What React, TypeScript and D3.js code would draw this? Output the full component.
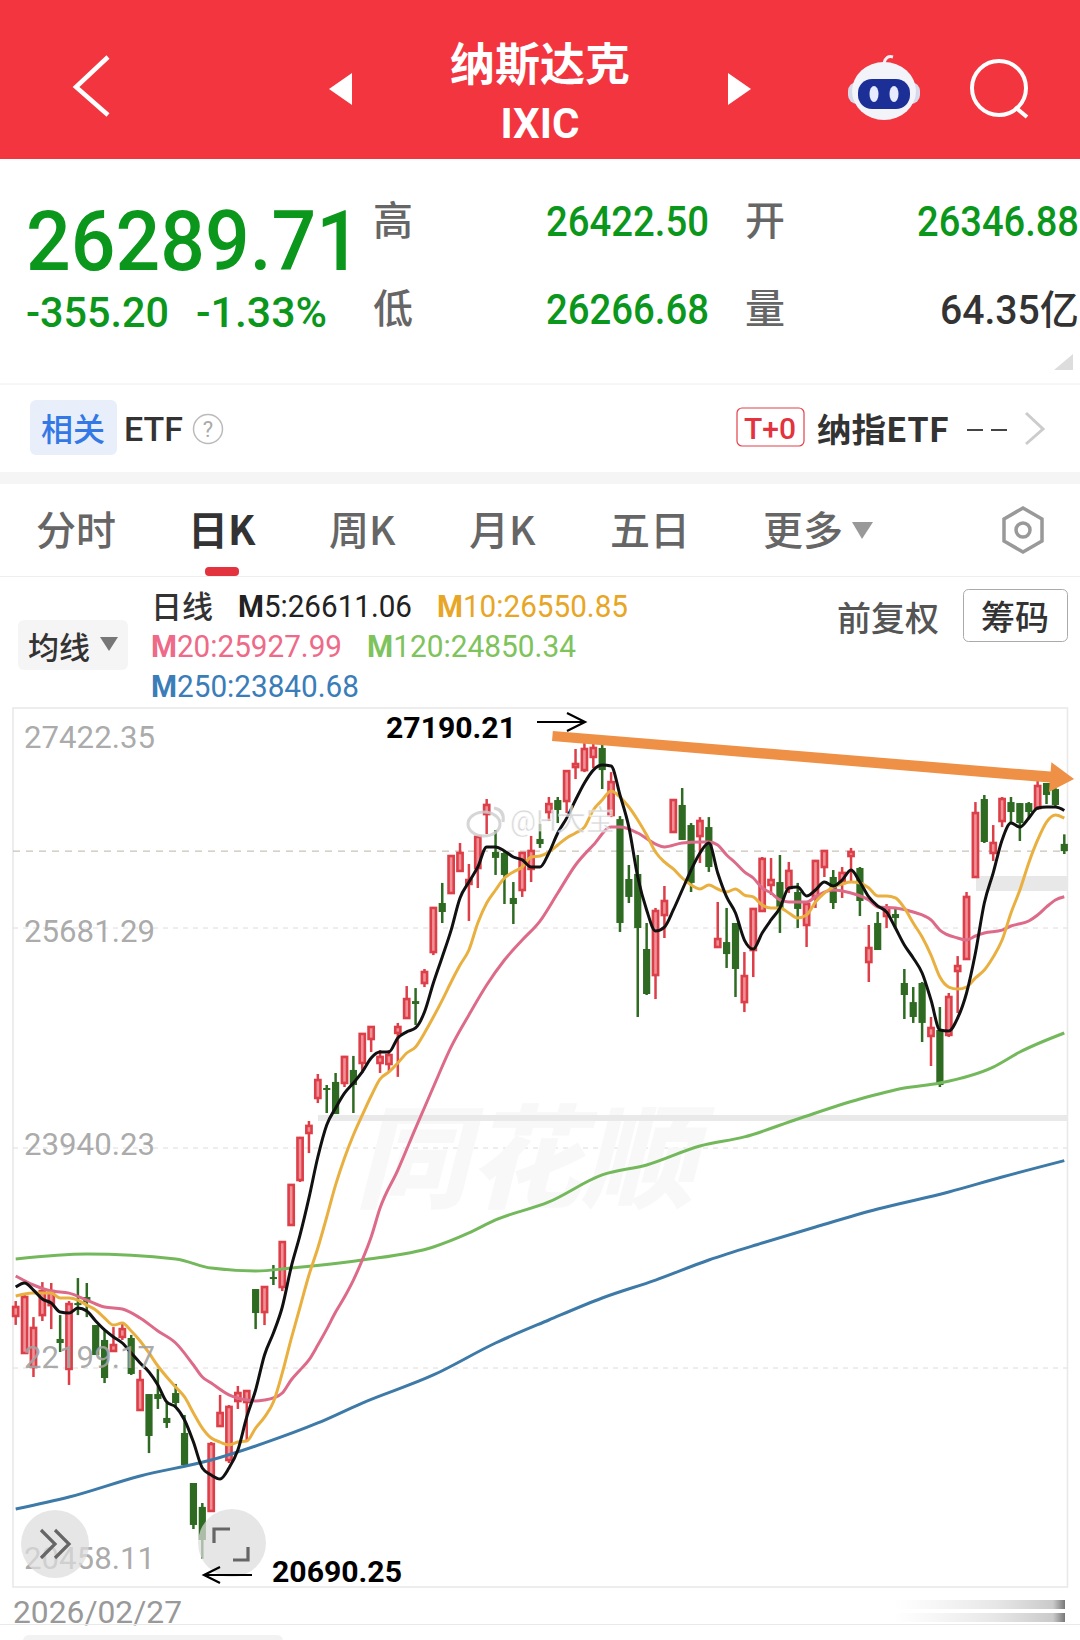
import React from 'react';
import * as d3 from 'd3';

// ---- chart values (IXIC daily candles) ----
const highs = [22729,22792,22602,22879,22872,22618,22729,22911,22872,22539,
22500,22523,22563,22461,22184,21993,22192,21922,22073,21827,
21289,21131,21613,21986,21906,22057,22025,22824,22840,23014,
23196,23648,24028,24154,24526,24439,24534,24669,24669,24843,
24898,24716,24716,24930,25222,25206,25357,25848,26038,26251,
26354,26188,26410,26702,26457,26283,26045,26283,26410,26504,
26718,26718,26931,27098,27146,27190.21,27130,26915,26567,26180,
26259,25721,25840,26014,26694,26789,26512,26559,26559,25887,
25840,25721,25491,25840,26243,26235,26259,26204,26038,25887,
26220,26291,26140,26164,26315,26164,25705,25808,25871,25848,
25357,25214,25254,24977,25056,25167,25459,25966,26678,26734,
26496,26718,26718,26670,26678,26845,26829,26789,26422.5];

const opens = [22611,22318,22207,22618,22697,22429,22192,22713,22761,22539,
22421,22334,22445,22437,21867,21993,21993,21804,22001,21685,
21289,21100,21068,21740,21471,21938,21930,22824,22642,22919,
22840,23331,23687,24059,24336,24415,24463,24455,24558,24613,
24803,24613,24605,24851,24969,25103,25246,25491,25879,25958,
26133,26030,26156,26583,26283,26275,25919,25982,26149,26386,
26599,26694,26686,26955,26931,27035,27106,26575,26543,26069,
26109,25515,25309,25784,26441,26655,26496,26409,26480,25531,
25570,25721,25095,25507,25816,26022,26045,25998,25966,25705,
25927,26164,26085,26038,26251,26156,25412,25721,25776,25792,
25246,25095,25246,24827,24874,24835,25341,25436,26085,26702,
26275,26528,26678,26670,26670,26631,26829,26781,26346.88];

const closes = [22682,22761,22516,22808,22808,22397,22705,22697,22721,22302,
22120,22381,22507,22152,22104,21661,21954,21764,21922,21431,
20957,20838,21597,21843,21891,22001,22017,22634,22840,22903,
23196,23648,24020,24115,24478,24407,24209,24661,24439,24843,
24898,24661,24676,24898,25119,25080,25333,25840,25808,26251,
26275,26061,26402,26655,26236,26101,25871,26275,26291,26346,
26662,26615,26923,26979,27098,27106,26931,26836,25721,25927,
25681,25159,25816,25895,26694,26378,26038,26528,26164,25594,
25475,25357,25301,25832,26228,26061,25840,26133,25832,25871,
26212,26291,25879,26117,26283,25895,25523,25507,25840,25760,
25151,24977,24930,24890,24439,25135,25380,25927,26591,26362,
26354,26702,26599,26512,26599,26805,26734,26655,26289.71];

const lows = [22540,22318,22128,22571,22507,22326,22065,22618,22602,22302,
22080,22326,22421,22144,21867,21526,21875,21725,21883,21431,
20925,20690.25,21060,21732,21447,21875,21629,22507,22539,22856,
22808,23323,23671,23900,24296,24217,24209,24423,24217,24534,
24700,24534,24542,24503,24969,24914,25214,25467,25721,25950,
26133,25737,25998,26425,26101,25871,25713,25927,26045,26315,
26528,26512,26591,26860,26915,26947,26781,26559,25650,25879,
24977,25151,25119,25602,26441,26378,25966,26196,26125,25523,
25365,25135,25016,25293,25816,25943,25642,25958,25681,25531,
25840,26085,25832,25919,26045,25776,25254,25507,25681,25681,
24961,24930,24779,24589,24423,24819,25008,25428,26085,26354,
26212,26480,26512,26370,26543,26615,26662,26639,26266.68];

const m5 = [22840,22872,22816,22745,22713,22642,22634,22674,22650,22571,
22500,22445,22397,22318,22239,22168,22065,21930,21891,21788,
21613,21408,21352,21321,21408,21550,21811,22025,22302,22476,
22682,22998,23252,23545,23869,24122,24257,24375,24455,24542,
24653,24700,24700,24811,24859,24890,25016,25246,25452,25665,
25919,26045,26164,26323,26323,26291,26243,26220,26164,26164,
26275,26433,26551,26694,26829,26931,26971,26963,26734,26480,
26085,25824,25658,25689,25824,25982,26140,26275,26354,26117,
25927,25800,25586,25515,25642,25745,25840,25998,26006,25935,
25982,26045,26014,26061,26140,26045,25927,25856,25808,25681,
25547,25444,25325,25111,24874,24866,24969,25167,25483,25879,
26117,26378,26512,26480,26551,26631,26639,26639,26611.06];

const m10 = [22769,22785,22792,22792,22792,22753,22753,22737,22697,22658,
22595,22539,22555,22492,22413,22318,22215,22128,22049,21970,
21843,21724,21645,21613,21590,21613,21621,21724,21811,21930,
22160,22429,22682,22935,23149,23394,23648,23861,24043,24201,
24352,24486,24542,24613,24692,24740,24851,24977,25111,25254,
25388,25507,25721,25879,25982,26077,26125,26164,26243,26251,
26283,26338,26394,26433,26480,26615,26694,26766,26718,26639,
26536,26417,26283,26204,26149,26077,26022,25990,26022,25990,
25966,25990,25942,25927,25863,25840,25840,25800,25761,25784,
25887,25958,26006,26030,26045,26038,25998,25935,25935,25919,
25840,25721,25610,25467,25293,25214,25198,25214,25286,25349,
25452,25586,25800,25982,26196,26378,26520,26576,26550.85];

const m20Bars = [0,2,4,6,8,10,12,14,16,18,20,21,22,24,26,27,28,29,30,31,32,33,34,35,36,37,38,39,40,41,43,45,47,49,51,53,55,57,59,61,63,65,67,68,70,72,73,75,77,78,79,80,81,82,83,84,85,86,87,89,90,91,92,94,96,97,99,101,103,104,106,107,108,109,111,112,114,115,116,117,118];
const m20 = [22927,22856,22808,22792,22737,22682,22666,22595,22492,22397,22223,22128,22080,21986,21946,21938,21946,21962,22001,22104,22184,22263,22381,22507,22642,22761,22895,23054,23236,23465,23766,24098,24423,24740,24993,25230,25428,25586,25736,25958,26180,26338,26480,26480,26433,26346,26323,26354,26362,26362,26338,26259,26196,26125,26077,25998,25958,25903,25887,25887,25927,25966,25982,25958,25903,25848,25840,25808,25745,25665,25602,25586,25618,25642,25665,25697,25737,25784,25848,25903,25927.99];

const m120Bars = [0,8,18,22,27,31,39,47,51,54,60,66,71,77,82,88,95,100,104,110,113,118];
const m120 = [23062,23101,23062,22990,22967,22990,23054,23157,23268,23371,23513,23727,23806,23956,24028,24170,24328,24415,24455,24581,24700,24850.34];

const m250Bars = [0,6,14,22,28,34,39,47,54,60,66,72,78,84,90,97,105,111,118];
const m250 = [21083,21178,21345,21471,21606,21764,21922,22144,22397,22579,22753,22895,23054,23188,23315,23457,23592,23711,23840.68];

const tickValues = [27422.35, 25681.29, 23940.23, 22199.17, 20458.11];
const lastClose = 26289.71;
const trendFrom = [60.4, 27201];
const trendTo = [119.1, 26860];
const dateLabel = '2026/02/27';

// ---- header text ----
const quoteMain = '26289.71';
const quoteChange = '-355.20';
const quotePct = '-1.33%';
const quoteHigh = '26422.50';
const quoteLow = '26266.68';
const quoteOpen = '26346.88';
const quoteVol = '64.35亿';
const tabs = ['分时', '日K', '周K', '月K', '五日', '更多'];

const CJK = '"Noto Sans CJK SC", Roboto, sans-serif';
const NUM = 'Roboto, "Noto Sans CJK SC", sans-serif';
const GREEN_TXT = '#0b961c';
const RED = '#dd3f49';
const RED_IN = '#ef8f96';
const DGREEN = '#2f6a22';

const W = 1080, H = 1640;
const x = d3.scaleLinear().domain([0, 118]).range([15.7, 1064.3]);
const y = d3.scaleLinear().domain([20458.11, 27422.35]).range([1588, 708]);

const denseBars = d3.range(highs.length);
const linePath = (bars: number[], vals: number[]) =>
  d3.line<number>().x(b => x(b)).y((_, k) => y(vals[k])).curve(d3.curveMonotoneX)(bars) as string;

function T(p: any) {
  const { ff = CJK, anchor = 'start', children, len, baseline, ...rest } = p;
  return (
    <text fontFamily={ff} textAnchor={anchor} dominantBaseline={baseline ? undefined : 'central'}
      textLength={len} lengthAdjust={len ? 'spacingAndGlyphs' : undefined} {...rest}>
      {children}
    </text>
  );
}

function Trend() {
  const x0 = x(trendFrom[0]), y0 = y(trendFrom[1]), x1 = x(trendTo[0]), y1 = y(trendTo[1]);
  const len = Math.hypot(x1 - x0, y1 - y0);
  const ux = (x1 - x0) / len, uy = (y1 - y0) / len, nx = -uy, ny = ux;
  const headLen = 24, hw = 15;
  const bx = x1 - ux * headLen, by = y1 - uy * headLen;
  const pts = [
    [x0 + nx * 5, y0 + ny * 5], [bx + nx * 5.5, by + ny * 5.5], [bx + nx * hw, by + ny * hw],
    [x1, y1], [bx - nx * hw, by - ny * hw], [bx - nx * 5.5, by - ny * 5.5], [x0 - nx * 5, y0 - ny * 5],
  ];
  return <polygon points={pts.map(p => p.join(',')).join(' ')} fill="#ef9047" />;
}

function MLabel({ px, py, fill, len, text }: any) {
  return (
    <T x={px} y={py} ff={NUM} fontSize={31} fill={fill} len={len}>
      <tspan fontWeight={700}>{text[0]}</tspan>{text.slice(1)}
    </T>
  );
}

export default function App() {
  const maxHigh = d3.max(highs) as number;
  const minLow = d3.min(lows) as number;
  const labelShift = [29, 3, -4, -11, -30];
  const tabX = [36, 188, 329, 469, 610, 763];
  const bodyW = 5.2;
  return (
    <svg width={W} height={H} viewBox={`0 0 ${W} ${H}`}
      style={{ position: 'absolute', left: 0, top: 0, background: '#fff', display: 'block' }}>
      <defs>
        <linearGradient id="fade" x1="0" x2="1" y1="0" y2="0">
          <stop offset="0" stopColor="#e8e8e8" stopOpacity="0" />
          <stop offset="0.6" stopColor="#e0e0e0" stopOpacity="0.8" />
          <stop offset="0.93" stopColor="#c4c4c4" stopOpacity="0.9" />
          <stop offset="1" stopColor="#777" stopOpacity="1" />
        </linearGradient>
      </defs>
      <rect width={W} height={H} fill="#fff" />

      {/* red title bar */}
      <rect width={W} height={159} fill="#f2353f" />
      <polyline points="108,57 76,87 108,115" fill="none" stroke="#fff" strokeWidth={4.5} />
      <polygon points="352,73 329,89 352,105" fill="#fff" />
      <polygon points="728,73 751,89 728,105" fill="#fff" />
      <T x={540} y={61} anchor="middle" fontSize={45} fontWeight={700} fill="#fff">纳斯达克</T>
      <T x={540} y={123} anchor="middle" ff={NUM} fontSize={42} fontWeight={700} fill="#fff">IXIC</T>
      <path d="M884 63 Q886 55 893 57" fill="none" stroke="#eef0f6" strokeWidth={3} />
      <rect x={848} y={82} width={72} height={22} rx={9} fill="#d5d9ea" />
      <ellipse cx={884} cy={91} rx={32} ry={29} fill="#f3f4fa" />
      <rect x={858} y={79} width={52} height={30} rx={14} fill="#1b2f96" />
      <ellipse cx={874} cy={94} rx={4.5} ry={8} fill="#e6ebff" />
      <ellipse cx={894} cy={94} rx={4.5} ry={8} fill="#e6ebff" />
      <circle cx={999} cy={88} r={27} fill="none" stroke="#fff" strokeWidth={4} />
      <line x1={1015} y1={107} x2={1027} y2={117} stroke="#fff" strokeWidth={4} />

      {/* quote block */}
      <T x={26} y={270} baseline="1" ff={NUM} fontSize={84} fontWeight={500} fill={GREEN_TXT} len={335}>{quoteMain}</T>
      <T x={26} y={327} baseline="1" ff={NUM} fontSize={42} fontWeight={500} fill={GREEN_TXT} len={143}>{quoteChange}</T>
      <T x={196} y={327} baseline="1" ff={NUM} fontSize={42} fontWeight={500} fill={GREEN_TXT} len={131}>{quotePct}</T>
      <T x={373} y={218} fontSize={40} fontWeight={500} fill="#666">高</T>
      <T x={373} y={306} fontSize={40} fontWeight={500} fill="#666">低</T>
      <T x={745} y={218} fontSize={40} fontWeight={500} fill="#666">开</T>
      <T x={745} y={306} fontSize={40} fontWeight={500} fill="#666">量</T>
      <T x={546} y={236} baseline="1" ff={NUM} fontSize={42} fontWeight={500} fill={GREEN_TXT} len={163}>{quoteHigh}</T>
      <T x={546} y={324} baseline="1" ff={NUM} fontSize={42} fontWeight={500} fill={GREEN_TXT} len={163}>{quoteLow}</T>
      <T x={917} y={236} baseline="1" ff={NUM} fontSize={42} fontWeight={500} fill={GREEN_TXT} len={162}>{quoteOpen}</T>
      <T x={940} y={324} baseline="1" ff={NUM} fontSize={40} fontWeight={500} fill="#333" len={139}>{quoteVol}</T>
      <polygon points="1054,370 1073,370 1073,354" fill="#ddd" />
      <line x1={0} x2={W} y1={384} y2={384} stroke="#eee" />

      {/* ETF row */}
      <rect x={30} y={400} width={87} height={55} rx={6} fill="#e8effb" />
      <T x={73} y={427} anchor="middle" fontSize={32} fontWeight={500} fill="#3478e5">相关</T>
      <T x={124} y={429} ff={NUM} fontSize={34} fontWeight={500} fill="#333">ETF</T>
      <circle cx={208} cy={429} r={14.5} fill="none" stroke="#bbb" strokeWidth={1.5} />
      <T x={208} y={429} anchor="middle" ff={NUM} fontSize={22} fill="#aaa">?</T>
      <rect x={737} y={408} width={67} height={38} rx={5} fill="#fff" stroke="#e2414a" strokeWidth={1.2} />
      <T x={770} y={428} anchor="middle" ff={NUM} fontSize={30} fontWeight={500} fill="#e2333f">T+0</T>
      <T x={817} y={428} fontSize={33} fontWeight={700} fill="#333" len={132}>纳指ETF</T>
      <line x1={967} x2={983} y1={430} y2={430} stroke="#444" strokeWidth={2} />
      <line x1={991} x2={1007} y1={430} y2={430} stroke="#444" strokeWidth={2} />
      <polyline points="1026,413 1043,429 1026,444" fill="none" stroke="#ccc" strokeWidth={3} />
      <rect x={0} y={472} width={W} height={12} fill="#f5f5f5" />

      {/* tabs */}
      {tabs.map((t, i) => (
        <T key={t} x={tabX[i]} y={528} fontSize={40} fontWeight={i === 1 ? 700 : 500} fill={i === 1 ? '#333' : '#666'}>{t}</T>
      ))}
      <polygon points="852,522 873,522 862,539" fill="#999" />
      <polygon points="1023,508 1042,519 1042,541 1023,552 1004,541 1004,519" fill="none" stroke="#999" strokeWidth={3.5} />
      <circle cx={1023} cy={530} r={7} fill="none" stroke="#999" strokeWidth={3.5} />
      <rect x={205} y={567} width={34} height={9} rx={4} fill="#e2333f" />
      <line x1={0} x2={W} y1={576.5} y2={576.5} stroke="#eee" />

      {/* legend */}
      <rect x={18} y={620} width={110} height={50} rx={6} fill="#f5f5f5" />
      <T x={28} y={645} fontSize={31} fontWeight={500} fill="#333">均线</T>
      <polygon points="100,637 118,637 109,651" fill="#777" />
      <T x={151} y={604} fontSize={31} fontWeight={500} fill="#333">日线</T>
      <MLabel px={238} py={606} fill="#222" len={174} text="M5:26611.06" />
      <MLabel px={437} py={606} fill="#e8a626" len={191} text="M10:26550.85" />
      <MLabel px={151} py={646} fill="#ee6a88" len={191} text="M20:25927.99" />
      <MLabel px={367} py={646} fill="#7ec35c" len={209} text="M120:24850.34" />
      <MLabel px={151} py={686} fill="#3a7db8" len={208} text="M250:23840.68" />
      <T x={837} y={616} fontSize={34} fontWeight={500} fill="#555">前复权</T>
      <rect x={963.5} y={589.5} width={104} height={52} rx={5} fill="#fff" stroke="#aaa" />
      <T x={1015} y={615} anchor="middle" fontSize={34} fontWeight={500} fill="#333">筹码</T>

      {/* plot frame and grid */}
      <rect x={13} y={708} width={1054.5} height={879} fill="none" stroke="#e9e9e9" strokeWidth={1.6} />
      {tickValues.slice(1, 4).map(v => (
        <line key={v} x1={13} x2={1067} y1={y(v)} y2={y(v)} stroke="#dcdcdc" strokeDasharray="5 5" />
      ))}
      <line x1={13} x2={1067} y1={y(lastClose)} y2={y(lastClose)} stroke="#b9b5a4" strokeDasharray="7 6" />

      {/* watermarks */}
      <T x={525} y={1150} anchor="middle" fontSize={112} fontWeight={900} fontStyle="italic" fill="#f8f8f8" len={340}>同花顺</T>
      <rect x={318} y={1115} width={750} height={6} fill="#e9e9e9" />
      <rect x={976} y={876} width={92} height={15} fill="#e8e8e8" />

      {/* candles */}
      {denseBars.map(i => {
        const up = closes[i] >= opens[i];
        const top = Math.max(opens[i], closes[i]);
        const bot = Math.min(opens[i], closes[i]);
        const cx = x(i);
        const c = up ? RED : DGREEN;
        return (
          <g key={i}>
            <line x1={cx} x2={cx} y1={y(highs[i])} y2={y(lows[i])} stroke={c} strokeWidth={2.5} />
            {up ? (
              <rect x={cx - bodyW / 2} y={y(top)} width={bodyW} height={Math.max(y(bot) - y(top), 1)}
                fill={RED_IN} stroke={RED} strokeWidth={2.6} />
            ) : (
              <rect x={cx - 3.6} y={y(top)} width={7.2} height={Math.max(y(bot) - y(top), 2)} fill={DGREEN} />
            )}
          </g>
        );
      })}

      {/* moving averages */}
      <g fill="none" strokeLinejoin="round">
        <path d={linePath(m250Bars, m250)} stroke="#3d7aa8" strokeWidth={3} />
        <path d={linePath(m120Bars, m120)} stroke="#74b85c" strokeWidth={3} />
        <path d={linePath(m20Bars, m20)} stroke="#dd6a88" strokeWidth={3} />
        <path d={linePath(denseBars, m10)} stroke="#e9b040" strokeWidth={3} />
        <path d={linePath(denseBars, m5)} stroke="#111" strokeWidth={3} />
      </g>

      {/* hand-drawn annotations */}
      <Trend />
      <T x={386} y={728} ff={NUM} fontSize={29} fontWeight={700} fill="#000" len={130}>{maxHigh.toFixed(2)}</T>
      <g fill="none" stroke="#000" strokeWidth={2.2}>
        <line x1={537} y1={722} x2={585} y2={722} />
        <polyline points="567,713 585,722 567,731" />
      </g>
      <T x={272} y={1572} ff={NUM} fontSize={29} fontWeight={700} fill="#000" len={130}>{minLow.toFixed(2)}</T>

      {/* weibo watermark */}
      <g opacity={0.8}>
        <ellipse cx={484} cy={824} rx={16} ry={12} fill="none" stroke="#ccc" strokeWidth={3} />
        <path d="M494 808 Q505 810 503 822" fill="none" stroke="#ccc" strokeWidth={3} />
        <T x={510} y={821} ff={NUM} fontSize={29} fill="#d0d0d0" stroke="#fff" strokeWidth={0.5}>@H大宝</T>
      </g>

      {/* axis labels */}
      {tickValues.map((v, k) => (
        <T key={v} x={24} y={y(v) + labelShift[k]} ff={NUM} fontSize={31} fill="#a3a3a3" fillOpacity={0.92} len={131}>
          {v.toFixed(2)}
        </T>
      ))}

      {/* floating buttons */}
      <circle cx={55} cy={1544} r={34} fill="#dcdcdc" fillOpacity={0.72} />
      <g fill="none" stroke="#666" strokeWidth={3.2}>
        <polyline points="41,1530 55,1544 41,1558" />
        <polyline points="55,1530 69,1544 55,1558" />
      </g>
      <circle cx={232} cy={1543} r={34} fill="#dcdcdc" fillOpacity={0.72} />
      <g fill="none" stroke="#666" strokeWidth={3.2}>
        <polyline points="214,1543 214,1529 230,1529" />
        <polyline points="233,1560 248,1560 248,1547" />
      </g>
      <g fill="none" stroke="#000" strokeWidth={2.2}>
        <line x1={252} y1={1575} x2={204} y2={1575} />
        <polyline points="220,1567 204,1575 220,1583" />
      </g>

      {/* footer */}
      <T x={13} y={1612} ff={NUM} fontSize={31} fill="#999" len={169}>{dateLabel}</T>
      <line x1={0} x2={W} y1={1624.5} y2={1624.5} stroke="#e9e9e9" />
      <rect x={23} y={1635} width={260} height={12} rx={6} fill="#f2f2f2" />
      <rect x={893} y={1600} width={172} height={9} fill="url(#fade)" />
      <rect x={893} y={1613} width={172} height={9} fill="url(#fade)" />
    </svg>
  );
}
